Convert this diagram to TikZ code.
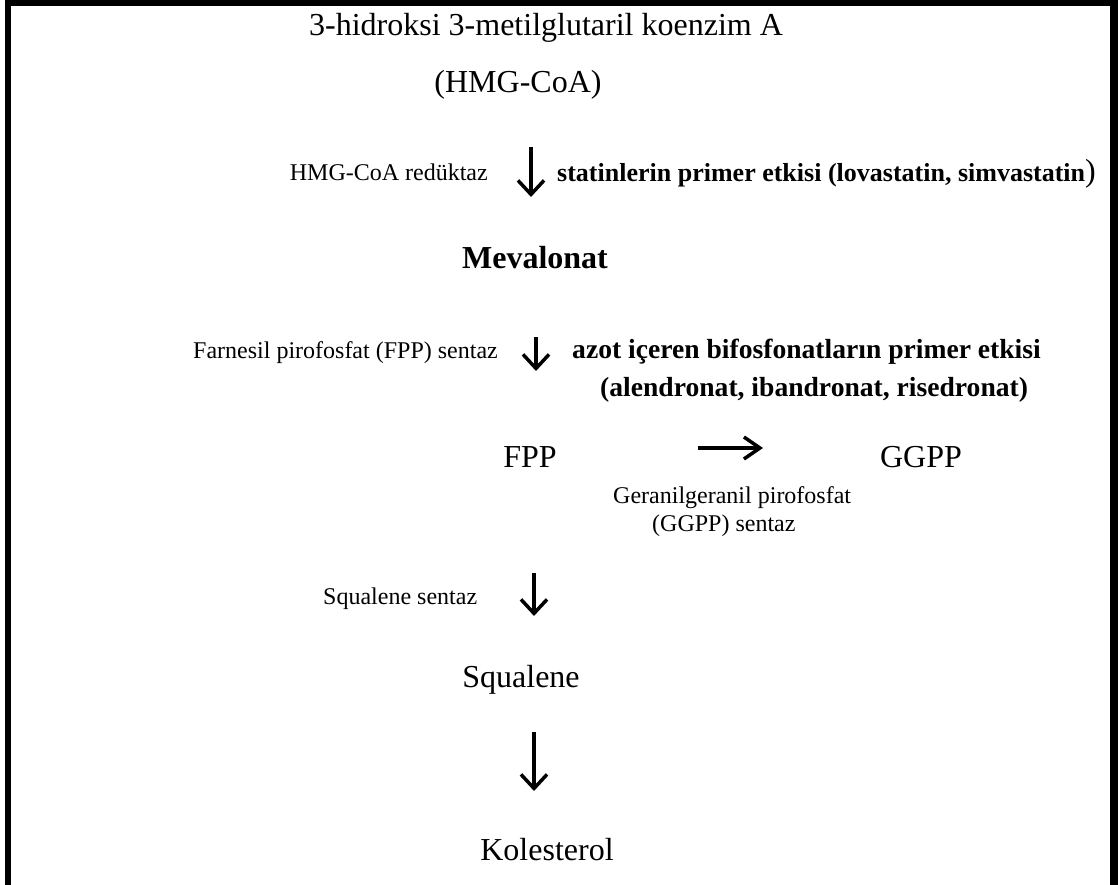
\documentclass[tikz,border=0pt]{standalone}
\usepackage{fontspec}
\setmainfont{Liberation Serif}
\usetikzlibrary{arrows.meta}

\begin{document}
\begin{tikzpicture}[x=1pt,y=1pt]
	\tikzstyle{every node}=[inner sep=0pt,anchor=base]
	\tikzstyle{big}=[font=\fontsize{32}{38}\selectfont]
	\tikzstyle{bigbold}=[font=\fontsize{32}{38}\selectfont\bfseries]
	\tikzstyle{enzyme}=[font=\fontsize{24}{28}\selectfont]
	\tikzstyle{drug}=[font=\fontsize{27.6}{32}\selectfont\bfseries]
	\tikzstyle{reac}=[-{Straight Barb[length=14pt,width=26pt]},line width=3.5pt]
	
	\useasboundingbox (0,0) rectangle (1118,-885);
	\draw[line width=6pt] (8,-885) |- (1113,-3) -- (1113,-885);
	\draw[line width=8pt] (1114,-885) -- (1114,0);
	
	% substrates
	\node[big] (hmgname) at (546,-36) {3-hidroksi 3-metilglutaril koenzim A};
	\node[big] (hmg) at (518,-93) {(HMG-CoA)};
	\node[bigbold] (meva) at (535,-268) {Mevalonat};
	\node[big] (fpp) at (530,-467) {FPP};
	\node[big] (ggpp) at (921,-467) {GGPP};
	\node[big] (squa) at (521,-687) {Squalene};
	\node[big] (kol) at (547,-860) {Kolesterol};
	
	% enzymes
	\node[enzyme,anchor=base east] (hmgr) at (488,-181) {HMG-CoA redüktaz};
	\node[enzyme,anchor=base east] (fpps) at (498,-358) {Farnesil pirofosfat (FPP) sentaz};
	\node[enzyme,anchor=base west] (ggpps) at (613,-503) {Geranilgeranil pirofosfat};
	\node[enzyme,anchor=base west] (ggpps2) at (652,-531) {(GGPP) sentaz};
	\node[enzyme,anchor=base west] (squas) at (323,-604) {Squalene sentaz};
	
	% drugs
	\node[drug,font=\fontsize{26}{30}\selectfont\bfseries,anchor=base west] (statin) at (557,-182) {statinlerin primer etkisi (lovastatin, simvastatin{\mdseries\fontsize{32}{38}\selectfont)}};
	\node[drug,anchor=base west] (bisf) at (572,-358) {azot içeren bifosfonatların primer etkisi};
	\node[drug,anchor=base west] (bisf2) at (600,-396) {(alendronat, ibandronat, risedronat)};
	
	% arrows
	\coordinate (a1) at (531,-147);
	\coordinate (b1) at (531,-197);
	\coordinate (a2) at (536,-337);
	\coordinate (b2) at (536,-371);
	\coordinate (a3) at (698,-448);
	\coordinate (b3) at (763,-448);
	\coordinate (a4) at (534,-573);
	\coordinate (b4) at (534,-616);
	\coordinate (a5) at (534,-732);
	\coordinate (b5) at (534,-791);
	\draw[reac] (a1) -- (b1);
	\draw[reac] (a2) -- (b2);
	\draw[reac,-{Straight Barb[length=16pt,width=22pt]}] (a3) -- (b3);
	\draw[reac] (a4) -- (b4);
	\draw[reac] (a5) -- (b5);
	
\end{tikzpicture}
\end{document}
